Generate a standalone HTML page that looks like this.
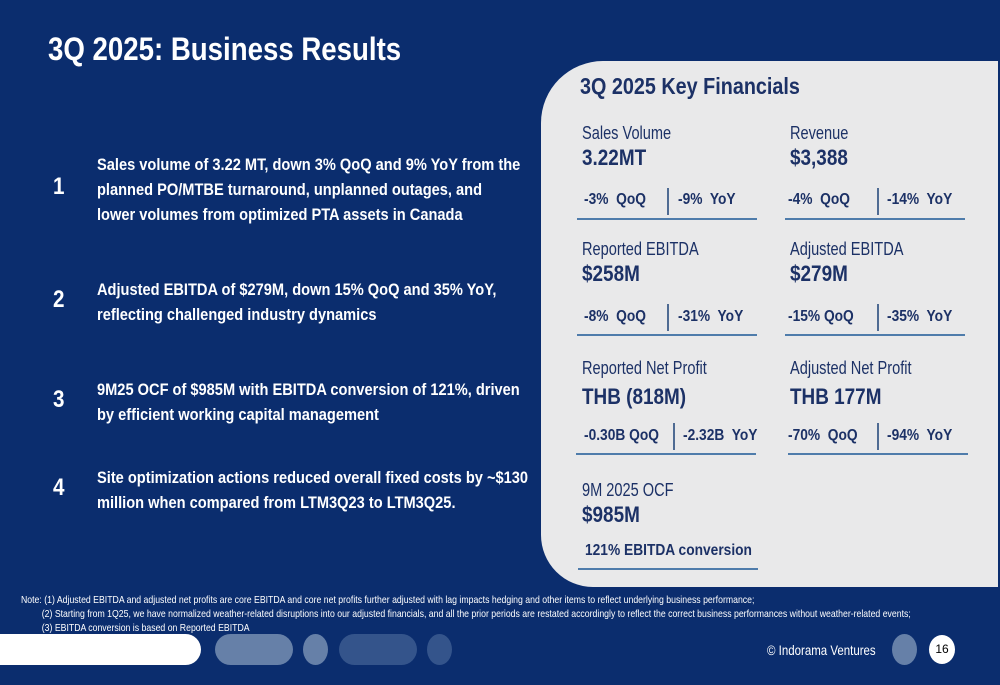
<!DOCTYPE html>
<html><head><meta charset="utf-8"><style>
body{margin:0;width:1000px;height:685px;overflow:hidden;background:#0b2d6e;font-family:"Liberation Sans",sans-serif;}
#s{position:relative;width:1000px;height:685px;background:#0b2d6e;}
.t{position:absolute;white-space:nowrap;transform:scaleX(0.86);transform-origin:0 0;line-height:1;}
.w{color:#fff}
.b{font-weight:bold}
.n{color:#1c3166}
.ul{position:absolute;height:2px;background:#4f7cab}
.vl{position:absolute;width:2px;background:#4f6b93;height:27px}
.pill{position:absolute;border-radius:16px}
</style></head><body>
<div id="s">
<div class="t w b" style="left:48px;top:33px;font-size:32.5px;transform:scaleX(0.85);">3Q 2025: Business Results</div>

<div class="t w b" style="left:53px;top:175px;font-size:24px;">1</div>
<div class="t w b" style="left:97px;top:152px;font-size:17px;line-height:25px;">Sales volume of 3.22 MT, down 3% QoQ and 9% YoY from the<br>planned PO/MTBE turnaround, unplanned outages, and<br>lower volumes from optimized PTA assets in Canada</div>
<div class="t w b" style="left:53px;top:288px;font-size:24px;">2</div>
<div class="t w b" style="left:97px;top:277px;font-size:17px;line-height:25px;">Adjusted EBITDA of $279M, down 15% QoQ and 35% YoY,<br>reflecting challenged industry dynamics</div>
<div class="t w b" style="left:53px;top:388px;font-size:24px;">3</div>
<div class="t w b" style="left:97px;top:377px;font-size:17px;line-height:25px;">9M25 OCF of $985M with EBITDA conversion of 121%, driven<br>by efficient working capital management</div>
<div class="t w b" style="left:53px;top:476px;font-size:24px;">4</div>
<div class="t w b" style="left:97px;top:465px;font-size:17px;line-height:25px;">Site optimization actions reduced overall fixed costs by ~$130<br>million when compared from LTM3Q23 to LTM3Q25.</div>

<div style="position:absolute;left:541px;top:61px;width:457px;height:526px;background:#e9e9ea;border-radius:62px 0 0 52px;"></div>
<div class="t n b" style="left:580px;top:75px;font-size:23px;">3Q 2025 Key Financials</div>

<div class="t n" style="left:582px;top:124px;font-size:18px;transform:scaleX(0.81);">Sales Volume</div>
<div class="t n b" style="left:582px;top:147px;font-size:22px;">3.22MT</div>
<div class="t n b" style="left:584px;top:192px;font-size:16px;">-3%&nbsp; QoQ</div>
<div class="vl" style="left:667px;top:188px;"></div>
<div class="t n b" style="left:678px;top:192px;font-size:16px;">-9%&nbsp; YoY</div>
<div class="ul" style="left:577px;top:218px;width:180px;"></div>

<div class="t n" style="left:790px;top:124px;font-size:18px;transform:scaleX(0.81);">Revenue</div>
<div class="t n b" style="left:790px;top:147px;font-size:22px;">$3,388</div>
<div class="t n b" style="left:788px;top:192px;font-size:16px;">-4%&nbsp; QoQ</div>
<div class="vl" style="left:877px;top:188px;"></div>
<div class="t n b" style="left:887px;top:192px;font-size:16px;">-14%&nbsp; YoY</div>
<div class="ul" style="left:785px;top:218px;width:180px;"></div>

<div class="t n" style="left:582px;top:240px;font-size:18px;transform:scaleX(0.81);">Reported EBITDA</div>
<div class="t n b" style="left:582px;top:263px;font-size:22px;">$258M</div>
<div class="t n b" style="left:584px;top:309px;font-size:16px;">-8%&nbsp; QoQ</div>
<div class="vl" style="left:667px;top:304px;"></div>
<div class="t n b" style="left:678px;top:309px;font-size:16px;">-31%&nbsp; YoY</div>
<div class="ul" style="left:577px;top:334px;width:180px;"></div>

<div class="t n" style="left:790px;top:240px;font-size:18px;transform:scaleX(0.81);">Adjusted EBITDA</div>
<div class="t n b" style="left:790px;top:263px;font-size:22px;">$279M</div>
<div class="t n b" style="left:788px;top:309px;font-size:16px;">-15% QoQ</div>
<div class="vl" style="left:877px;top:304px;"></div>
<div class="t n b" style="left:887px;top:309px;font-size:16px;">-35%&nbsp; YoY</div>
<div class="ul" style="left:785px;top:334px;width:180px;"></div>

<div class="t n" style="left:582px;top:359px;font-size:18px;transform:scaleX(0.81);">Reported Net Profit</div>
<div class="t n b" style="left:582px;top:386px;font-size:22px;">THB (818M)</div>
<div class="t n b" style="left:584px;top:428px;font-size:16px;">-0.30B QoQ</div>
<div class="vl" style="left:673px;top:423px;"></div>
<div class="t n b" style="left:683px;top:428px;font-size:16px;">-2.32B&nbsp; YoY</div>
<div class="ul" style="left:576px;top:453px;width:180px;"></div>

<div class="t n" style="left:790px;top:359px;font-size:18px;transform:scaleX(0.81);">Adjusted Net Profit</div>
<div class="t n b" style="left:790px;top:386px;font-size:22px;">THB 177M</div>
<div class="t n b" style="left:788px;top:428px;font-size:16px;">-70%&nbsp; QoQ</div>
<div class="vl" style="left:877px;top:423px;"></div>
<div class="t n b" style="left:887px;top:428px;font-size:16px;">-94%&nbsp; YoY</div>
<div class="ul" style="left:788px;top:453px;width:180px;"></div>

<div class="t n" style="left:582px;top:481px;font-size:18px;transform:scaleX(0.81);">9M 2025 OCF</div>
<div class="t n b" style="left:582px;top:504px;font-size:22px;">$985M</div>
<div class="t n b" style="left:585px;top:543px;font-size:16px;">121% EBITDA conversion</div>
<div class="ul" style="left:578px;top:568px;width:180px;"></div>

<div class="t w" style="left:21px;top:593px;font-size:10.5px;line-height:14px;transform:scaleX(0.83);">Note: (1) Adjusted EBITDA and adjusted net profits are core EBITDA and core net profits further adjusted with lag impacts hedging and other items to reflect underlying business performance;<br><span style="padding-left:25px">(2) Starting from 1Q25, we have normalized weather-related disruptions into our adjusted financials, and all the prior periods are restated accordingly to reflect the correct business performances without weather-related events;</span><br><span style="padding-left:25px">(3) EBITDA conversion is based on Reported EBITDA</span></div>

<div class="pill" style="left:-20px;top:634px;width:221px;height:31px;background:#fff;"></div>
<div class="pill" style="left:215px;top:634px;width:78px;height:31px;background:#6680a8;"></div>
<div class="pill" style="left:303px;top:634px;width:25px;height:31px;background:#6680a8;border-radius:50%;"></div>
<div class="pill" style="left:339px;top:634px;width:78px;height:31px;background:#34548b;"></div>
<div class="pill" style="left:427px;top:634px;width:25px;height:31px;background:#34548b;border-radius:50%;"></div>
<div class="t w" style="left:767px;top:643px;font-size:14px;transform:scaleX(0.82);">© Indorama Ventures</div>
<div class="pill" style="left:892px;top:634px;width:25px;height:31px;background:#6680a8;border-radius:50%;"></div>
<div style="position:absolute;left:929px;top:635px;width:26px;height:29px;background:#fff;border-radius:50%;color:#000;font-size:12px;text-align:center;line-height:29px;">16</div>
</div>
</body></html>
